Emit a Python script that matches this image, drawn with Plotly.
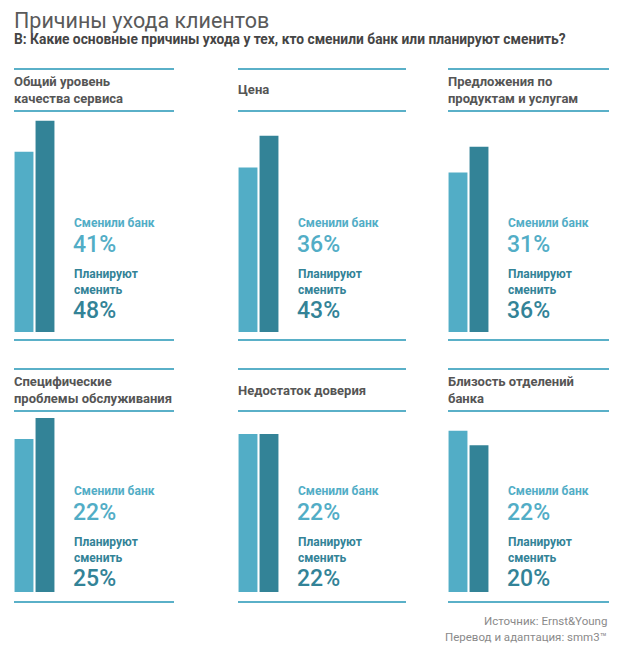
import plotly.graph_objects as go

# ---------------- data ----------------
panel_titles = [
    ["Общий уровень", "качества сервиса"],
    ["Цена"],
    ["Предложения по", "продуктам и услугам"],
    ["Специфические", "проблемы обслуживания"],
    ["Недостаток доверия"],
    ["Близость отделений", "банка"],
]
switched = [41, 36, 31, 22, 22, 22]      # Сменили банк, %
planning = [48, 43, 36, 25, 22, 20]      # Планируют сменить, %
label_switched = "Сменили банк"
label_planning = ["Планируют", "сменить"]
title = "Причины ухода клиентов"
subtitle = "В: Какие основные причины ухода у тех, кто сменили банк или планируют сменить?"
footer = ["Источник: Ernst&Young", "Перевод и адаптация: smm3™"]

# per-panel value-axis maximum (each panel in the source has its own scale)
y_axis_max = [49.1, 47.3, 42.0, 25.3, 24.5, 24.0]

# ---------------- layout / style ----------------
W, H = 624, 650
LIGHT = "#52adc6"
DARK = "#338397"
LINE = "#5ab0c8"
FONT = "Roboto, Liberation Sans, Arial, sans-serif"

col_left = [14, 238, 448]
col_right = [174, 406, 609]
row_lines = [(69, 111, 340), (369, 411, 602)]
row_bar_top = [116, 416]
row_bar_bottom = [332, 592]
row_label = [223, 491]


def px(x):
    return x / W


def py(y):
    return 1 - y / H


fig = go.Figure()
shapes = []
annotations = []
layout_axes = {}


def note(text, x, y, size, color, weight=None, xanchor="left"):
    f = dict(family=FONT, size=size, color=color)
    if weight:
        f["weight"] = weight
    annotations.append(dict(text=text, x=px(x), y=py(y), xref="paper", yref="paper",
                            xanchor=xanchor, yanchor="middle", align=xanchor,
                            showarrow=False, font=f))


for i in range(6):
    r, c = divmod(i, 3)
    n = i + 1
    xa = "x" if n == 1 else f"x{n}"
    ya = "y" if n == 1 else f"y{n}"
    fig.add_trace(go.Bar(
        x=[0, 1], y=[switched[i], planning[i]],
        marker=dict(color=[LIGHT, DARK], line=dict(width=0)),
        width=0.9, xaxis=xa, yaxis=ya, showlegend=False, hoverinfo="skip",
    ))
    left = col_left[c]
    layout_axes["xaxis" if n == 1 else f"xaxis{n}"] = dict(
        domain=[px(left - 0.5), px(left + 41.5)], range=[-0.5, 1.5],
        visible=False, fixedrange=True, anchor=ya)
    layout_axes["yaxis" if n == 1 else f"yaxis{n}"] = dict(
        domain=[py(row_bar_bottom[r]), py(row_bar_top[r])], range=[0, y_axis_max[i]],
        visible=False, fixedrange=True, anchor=xa)

    # separator lines
    for yl in row_lines[r]:
        shapes.append(dict(type="line", xref="paper", yref="paper",
                           x0=px(left), x1=px(col_right[c]), y0=py(yl), y1=py(yl),
                           line=dict(color=LINE, width=2)))

    # panel title
    tc = (row_lines[r][0] + row_lines[r][1]) / 2
    note("<br>".join(panel_titles[i]), left - 2, tc, 13, "#555555", weight="bold")

    # value labels
    lx = left + 58
    base = row_label[r]
    note(label_switched, lx, base, 12, LIGHT, weight="bold")
    note(f"{switched[i]}%", lx - 1, base + 21, 23, LIGHT, weight=500)
    note("<br>".join(label_planning), lx, base + 59, 12, DARK, weight="bold")
    note(f"{planning[i]}%", lx - 1, base + 87, 23, DARK, weight=500)

# titles
note(title, 12, 20, 21.5, "#5a5a5a")
note(subtitle, 12, 39, 13.8, "#454545", weight="bold")
for k, t in enumerate(footer):
    note(t, 609, 621 + 16 * k, 11.5, "#8a8a8a", xanchor="right")

fig.update_layout(
    width=W, height=H, margin=dict(l=0, r=0, t=0, b=0),
    paper_bgcolor="white", plot_bgcolor="white",
    bargap=0.08, shapes=shapes, annotations=annotations, **layout_axes,
)

fig.write_html("out.html", config={"displayModeBar": False},
               post_script="document.body.style.margin='0';")
